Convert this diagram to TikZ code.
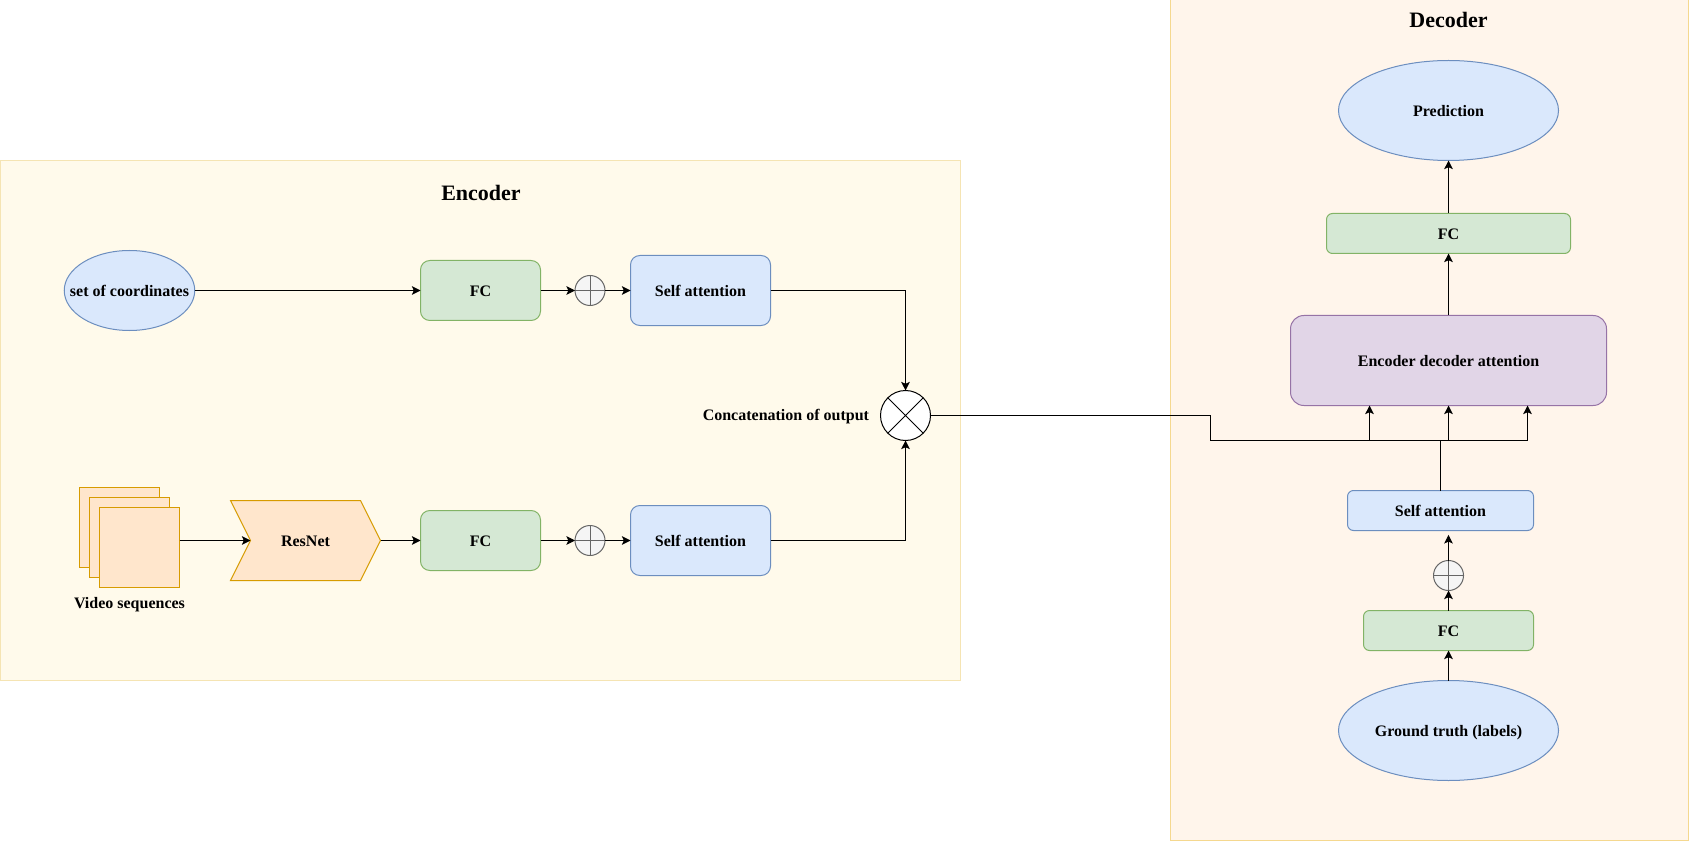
\documentclass[tikz,border=0pt]{standalone}
\usepackage{fontspec}
\setmainfont{Liberation Serif}
\usetikzlibrary{arrows.meta,shapes.geometric,shapes.symbols}
\definecolor{blueF}{HTML}{DAE8FC}\definecolor{blueD}{HTML}{6C8EBF}
\definecolor{greenF}{HTML}{D5E8D4}\definecolor{greenD}{HTML}{82B366}
\definecolor{orangeF}{HTML}{FFE6CC}\definecolor{orangeD}{HTML}{D79B00}
\definecolor{purpleF}{HTML}{E1D5E7}\definecolor{purpleD}{HTML}{9673A6}
\definecolor{plusF}{HTML}{F5F5F5}\definecolor{plusD}{HTML}{666666}
\definecolor{encF}{HTML}{FFFAEB}\definecolor{encD}{HTML}{F5E4B3}
\definecolor{decF}{HTML}{FFF5EB}\definecolor{decD}{HTML}{F5D88F}
\tikzset{
  sz/.style 2 args={minimum width=#1*0.75pt,minimum height=#2*0.75pt},
  every node/.style={inner sep=0pt,outer sep=0pt,font=\fontsize{12}{14}\selectfont\bfseries,text=black,text height=11pt,text depth=1.6pt},
  panelE/.style={rectangle,draw=encD,fill=encF,line width=0.75pt},
  panelD/.style={rectangle,draw=decD,fill=decF,line width=0.75pt},
  title/.style={font=\fontsize{16.5}{20}\selectfont\bfseries,text height=11.2pt,text depth=0pt},
  bluebox/.style={rectangle,rounded corners=7pt,draw=blueD,fill=blueF,line width=0.75pt},
  blueboxs/.style={rectangle,rounded corners=4.5pt,draw=blueD,fill=blueF,line width=0.75pt},
  greenbox/.style={rectangle,rounded corners=7pt,draw=greenD,fill=greenF,line width=0.75pt},
  greenboxs/.style={rectangle,rounded corners=4.5pt,draw=greenD,fill=greenF,line width=0.75pt},
  purplebox/.style={rectangle,rounded corners=10pt,draw=purpleD,fill=purpleF,line width=0.75pt},
  oval/.style={ellipse,draw=blueD,fill=blueF,line width=0.75pt},
  frame/.style={rectangle,draw=orangeD,fill=orangeF,line width=0.75pt},
  chev/.style={signal,signal from=west,signal to=east,signal pointer angle=126.87,draw=orangeD,fill=orangeF,line width=0.75pt},
  plusnode/.style={circle,draw=plusD,fill=plusF,line width=0.75pt,minimum size=30*0.75pt,
    path picture={\draw[plusD,line width=0.75pt] (path picture bounding box.north)--(path picture bounding box.south)
      (path picture bounding box.west)--(path picture bounding box.east);}},
  xnode/.style={circle,draw=black,fill=white,line width=0.75pt,minimum size=50*0.75pt,
    path picture={\draw[black,line width=0.75pt] (path picture bounding box.north west)--(path picture bounding box.south east)
      (path picture bounding box.south west)--(path picture bounding box.north east);}},
  conn/.style={draw=black,line width=0.75pt},
  arr/.style={conn,-{Stealth[length=6.5pt,width=6.5pt,inset=1.5pt]}},
}
\begin{document}
\begin{tikzpicture}[x=0.75pt,y=-0.75pt]
\useasboundingbox (0,0) rectangle (1690,841);
% panels
\node[panelE,sz={960}{520}] (enc) at (480.5,420.5) {};
\node[panelD,sz={518}{840}] (dec) at (1429.7,420) {};
\node[title] (enctitle) at (481,193) {Encoder};
\node[title] (dectitle) at (1448.5,20.3) {Decoder};
% encoder
\node[oval,sz={130.5}{80}] (coords) at (129.5,290.5) {\makebox[0pt]{set of coordinates}};
\node[greenbox,sz={120}{60}] (fc1) at (480.5,290.5) {FC};
\node[plusnode] (p1) at (590,290.5) {};
\node[bluebox,sz={140}{70}] (sa1) at (700.5,290.5) {Self attention};
\node[frame,sz={80}{80}] (v1) at (119.5,527.5) {};
\node[frame,sz={80}{80}] (v2) at (129.5,537.5) {};
\node[frame,sz={80}{80}] (v3) at (139.5,547.5) {};
\node (vlabel) at (129.5,602.5) {Video sequences};
\node[chev,sz={150}{80}] (res) at (305.5,540.5) {ResNet};
\coordinate (notch) at (250.5,540.5);
\node[greenbox,sz={120}{60}] (fc2) at (480.5,540.5) {FC};
\node[plusnode] (p2) at (590,540.5) {};
\node[bluebox,sz={140}{70}] (sa2) at (700.5,540.5) {Self attention};
\node[xnode] (cat) at (905.5,415.5) {};
\node[anchor=east] (catlabel) at (869,414.5) {Concatenation of output};
% decoder
\node[oval,sz={220}{100}] (pred) at (1448.5,110.5) {Prediction};
\node[greenboxs,sz={244}{40}] (fc3) at (1448.5,233.5) {FC};
\node[purplebox,sz={316}{90}] (eda) at (1448.5,360.5) {Encoder decoder attention};
\node[blueboxs,sz={186}{40}] (sa3) at (1440.5,510.5) {Self attention};
\node[plusnode] (p3) at (1448.5,575.5) {};
\node[greenboxs,sz={170}{40}] (fc4) at (1448.5,630.5) {FC};
\node[oval,sz={220}{100}] (gt) at (1448.5,730.5) {Ground truth (labels)};
\coordinate (bend1) at (1210.5,415.5);
\coordinate (bend2) at (1210.5,440.5);
\coordinate (b1) at (1369.5,440.5);
\coordinate (b2) at (1448.5,440.5);
\coordinate (b3) at (1527.5,440.5);
\coordinate (t1) at (1369.5,405.5);
\coordinate (t2) at (1448.5,405.5);
\coordinate (t3) at (1527.5,405.5);
\coordinate (j) at (1440.5,440.5);
% connectors
\draw[arr] (coords.east) -- (fc1.west);
\draw[arr] (fc1.east) -- (p1.west);
\draw[arr] (p1.east) -- (sa1.west);
\draw[arr] (sa1.east) -| (cat.north);
\draw[arr] (v3.east |- notch) -- (notch);
\draw[arr] (res.east) -- (fc2.west);
\draw[arr] (fc2.east) -- (p2.west);
\draw[arr] (p2.east) -- (sa2.west);
\draw[arr] (sa2.east) -| (cat.south);
\draw[conn] (cat.east) -- (bend1) -- (bend2) -- (b3);
\draw[arr] (b1) -- (t1);
\draw[arr] (b2) -- (t2);
\draw[arr] (b3) -- (t3);
\draw[conn] (sa3.north) -- (j);
\draw[arr,shorten >=3.3pt] (p3.north) -- (p3.north |- sa3.south);
\draw[arr] (fc4.north) -- (p3.south);
\draw[arr] (gt.north) -- (fc4.south);
\draw[arr] (eda.north) -- (fc3.south);
\draw[arr] (fc3.north) -- (pred.south);
\end{tikzpicture}
\end{document}
